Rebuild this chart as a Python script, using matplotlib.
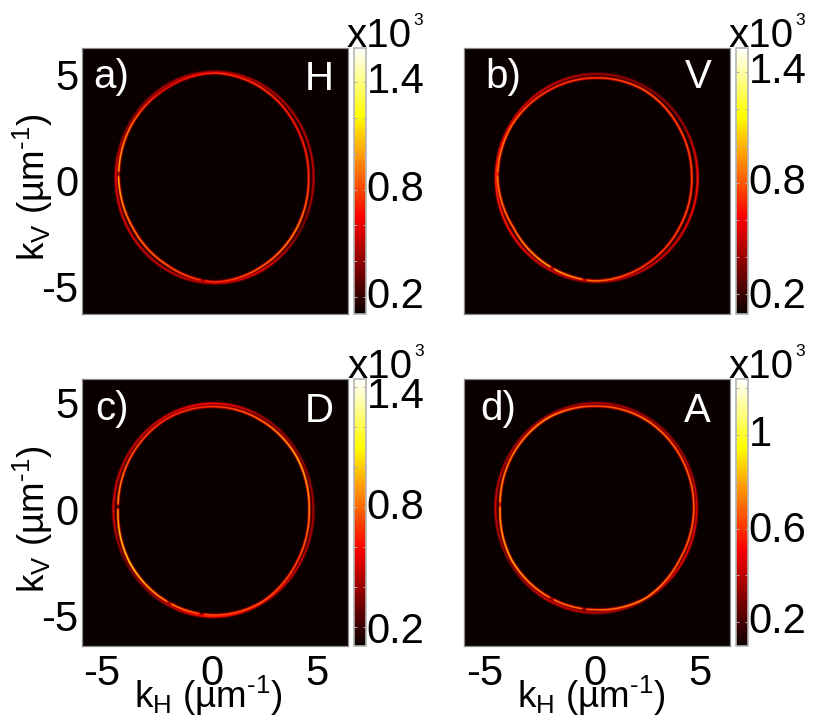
import numpy as np
import matplotlib
matplotlib.use("Agg")
import matplotlib.pyplot as plt
from matplotlib.transforms import ScaledTranslation

plt.rcParams['font.family'] = ['Liberation Sans', 'DejaVu Sans']
plt.rcParams['mathtext.fontset'] = 'custom'
plt.rcParams['mathtext.rm'] = 'Liberation Sans'
plt.rcParams['mathtext.default'] = 'rm'

W, H = 830, 723

# ---- values (intensities in units of 10^3) ----
angles = [0, 30, 60, 90, 120, 150, 180, 210, 240, 270, 300, 330]
panel_letters = ['a)', 'b)', 'c)', 'd)']
polarisations = ['H', 'V', 'D', 'A']

inner_a = [0.85, 0.75, 0.85, 0.80, 0.70, 1.00, 1.15, 1.00, 0.95, 0.80, 0.95, 1.05]
inner_b = [0.85, 0.85, 0.90, 0.80, 0.80, 0.95, 1.00, 0.95, 1.10, 0.95, 0.80, 0.85]
inner_c = [0.95, 1.05, 0.90, 0.75, 0.75, 0.85, 1.00, 1.15, 0.95, 0.80, 0.85, 0.80]
inner_d = [0.75, 0.75, 0.80, 0.70, 0.85, 0.80, 0.85, 0.90, 0.80, 0.75, 0.85, 0.75]

outer_a = [0.55, 0.50, 0.50, 0.55, 0.50, 0.40, 0.65, 0.60, 0.55, 0.55, 0.65, 0.38]
outer_b = [0.72, 0.45, 0.40, 0.45, 0.55, 0.55, 0.75, 0.70, 0.55, 0.45, 0.55, 0.60]
outer_c = [0.45, 0.38, 0.45, 0.65, 0.55, 0.50, 0.60, 0.33, 0.45, 0.70, 0.55, 0.50]
outer_d = [0.48, 0.38, 0.38, 0.42, 0.38, 0.38, 0.48, 0.33, 0.48, 0.42, 0.38, 0.52]

split_a = [0.24, 0.22, 0.14, 0.05, 0.12, 0.11, 0.14, 0.22, 0.20, 0.05, 0.16, 0.20]
split_b = [0.28, 0.25, 0.16, 0.18, 0.16, 0.08, 0.08, 0.22, 0.14, 0.04, 0.16, 0.25]
split_c = [0.20, 0.14, 0.16, 0.14, 0.12, 0.17, 0.22, 0.14, 0.12, 0.07, 0.05, 0.16]
split_d = [0.14, 0.14, 0.12, 0.14, 0.08, 0.14, 0.22, 0.12, 0.14, 0.14, 0.04, 0.17]

centre_x = [0.11, 0.05, 0.05, 0.02]
centre_y = [0.12, 0.10, -0.05, 0.05]
semi_x = [4.71, 4.80, 4.76, 4.79]
semi_y = [4.99, 4.91, 5.03, 4.95]
dark_angles = [178, 243, 263]
dark_depth_a = [0.65, 0.10, 0.45]
dark_depth_b = [0.25, 0.55, 0.60]
dark_depth_c = [0.75, 0.55, 0.70]
dark_depth_d = [0.45, 0.55, 0.65]

cbar_min = [0.105, 0.092, 0.105, 0.097]
cbar_max = [1.59, 1.53, 1.44, 1.24]
cbar_ticks = [[0.2, 0.4, 0.6, 0.8, 1.0, 1.2, 1.4]] * 3 + [[0.2, 0.4, 0.6, 0.8, 1.0, 1.2]]
cbar_labels = [['0.2', '0.8', '1.4'], ['0.2', '0.8', '1.4'], ['0.2', '0.8', '1.4'], ['0.2', '0.6', '1']]
cbar_label_at = [[0.2, 0.8, 1.4], [0.185, 0.8, 1.4], [0.175, 0.795, 1.35], [0.2, 0.59, 1.0]]
k_ticks = [-5, 0, 5]
k_tick_labels = ['-5', '0', '5']

inner = [inner_a, inner_b, inner_c, inner_d]
outer = [outer_a, outer_b, outer_c, outer_d]
split = [split_a, split_b, split_c, split_d]
dark = [dark_depth_a, dark_depth_b, dark_depth_c, dark_depth_d]

# ---- layout, in reference pixels ----
ax_box = [(81.5, 48, 348, 314), (463.5, 48, 730, 314), (81.5, 379, 348, 646), (463.5, 379, 730, 646)]
cb_box = [(354, 48, 365.5, 314), (736, 48, 747.5, 314), (354, 379, 365.5, 646), (736, 379, 747.5, 646)]
xlims = [(-6.20, 6.50), (-6.26, 6.43), (-6.20, 6.50), (-6.26, 6.43)]
ylims = [(-6.32, 6.23), (-6.32, 6.23), (-6.46, 6.13), (-6.46, 6.13)]
letter_xy = [(93, 88), (485, 88), (95, 420), (480, 420)]
pol_xy = [(334, 90), (712, 88), (334, 422.5), (711, 422.5)]
pow_x = [347, 729, 348, 729]
pow_y = [47, 47, 378, 378]
FRAME = '#8c8c8c'
FS = 30


def fx(x):
    return x / W


def fy(y):
    return 1 - y / H


def rect(b):
    return [fx(b[0]), fy(b[3]), (b[2] - b[0]) / W, (b[3] - b[1]) / H]


def ring_image(i, xlim, ylim):
    xs = np.linspace(xlim[0], xlim[1], 700)
    ys = np.linspace(ylim[0], ylim[1], 700)
    X, Y = np.meshgrid(xs, ys)
    dx, dy = X - centre_x[i], Y - centre_y[i]
    th = np.degrees(np.arctan2(dy / semi_y[i], dx / semi_x[i])) % 360
    r = np.hypot(dx / semi_x[i], dy / semi_y[i])
    dist = (r - 1) * 0.5 * (semi_x[i] + semi_y[i])
    I_in = np.interp(th, angles, inner[i], period=360)
    I_out = np.interp(th, angles, outer[i], period=360)
    S = np.interp(th, angles, split[i], period=360)
    for a, d in zip(dark_angles, dark[i]):
        I_in = I_in * (1 - d * np.exp(-0.5 * ((th - a) / 0.8) ** 2))
    sigma = 0.04
    floor = cbar_min[i]
    g1 = floor + (I_in - floor) * np.exp(-0.5 * ((dist + S) / sigma) ** 2)
    g2 = floor + (I_out - floor) * np.exp(-0.5 * (dist / (1.1 * sigma)) ** 2)
    return np.maximum(g1, g2)


fig = plt.figure(figsize=(W / 100, H / 100), dpi=100, facecolor='white')

for i in range(4):
    ax = fig.add_axes(rect(ax_box[i]))
    im = ax.imshow(ring_image(i, xlims[i], ylims[i]), origin='lower', cmap='hot',
                   vmin=cbar_min[i], vmax=cbar_max[i], aspect='auto', interpolation='bilinear',
                   extent=[*xlims[i], *ylims[i]])
    ax.set_xticks(k_ticks)
    ax.set_yticks(k_ticks)
    ax.tick_params(length=0, labelsize=FS, pad=2)
    ax.tick_params(axis='x', pad=6)
    ax.set_xticklabels(k_tick_labels if i >= 2 else [])
    ax.set_yticklabels(k_tick_labels if i % 2 == 0 else [])
    if i >= 2:
        lab = ax.get_xticklabels()[0]
        lab.set_transform(lab.get_transform() + ScaledTranslation(-5 / 100, 0, fig.dpi_scale_trans))
    for s in ax.spines.values():
        s.set_color(FRAME)
        s.set_linewidth(0.9)

    cax = fig.add_axes(rect(cb_box[i]))
    cb = fig.colorbar(im, cax=cax)
    cb.set_ticks(cbar_ticks[i])
    cb.set_ticklabels([])
    cax.tick_params(axis='y', direction='in', length=2, width=0.7, color='#b0b0b0', left=True, right=True)
    cb.outline.set_edgecolor('#b4b4b4')
    cb.outline.set_linewidth(1.2)
    for v, s in zip(cbar_label_at[i], cbar_labels[i]):
        cax.text(1.1, v, s, transform=cax.get_yaxis_transform(),
                 fontsize=FS, va='center', ha='left', color='black', clip_on=False)

    fig.text(fx(letter_xy[i][0]), fy(letter_xy[i][1]), panel_letters[i], color='white',
             fontsize=FS - 1, ha='left', va='baseline')
    fig.text(fx(pol_xy[i][0]), fy(pol_xy[i][1]), polarisations[i], color='white',
             fontsize=FS - 1, ha='right', va='baseline')
    fig.text(fx(pow_x[i]), fy(pow_y[i]), 'x10', color='black', fontsize=FS - 1, ha='left', va='baseline')
    fig.text(fx(pow_x[i] + 66), fy(pow_y[i] - 22), '3', color='black', fontsize=12.5, ha='left', va='baseline')

ylab = 'k$_{V}$ (µm$^{\u2010 1}$)'
xlab = 'k$_{H}$ (µm$^{\u2010 1}$)'
fig.text(fx(33), fy(187), ylab, rotation=90, fontsize=26.5, ha='center', va='center')
fig.text(fx(33), fy(519), ylab, rotation=90, fontsize=26.5, ha='center', va='center')
fig.text(fx(208), fy(708), xlab, fontsize=26.5, ha='center', va='baseline')
fig.text(fx(591), fy(708), xlab, fontsize=26.5, ha='center', va='baseline')

fig.savefig('out.png', dpi=100, facecolor='white')
